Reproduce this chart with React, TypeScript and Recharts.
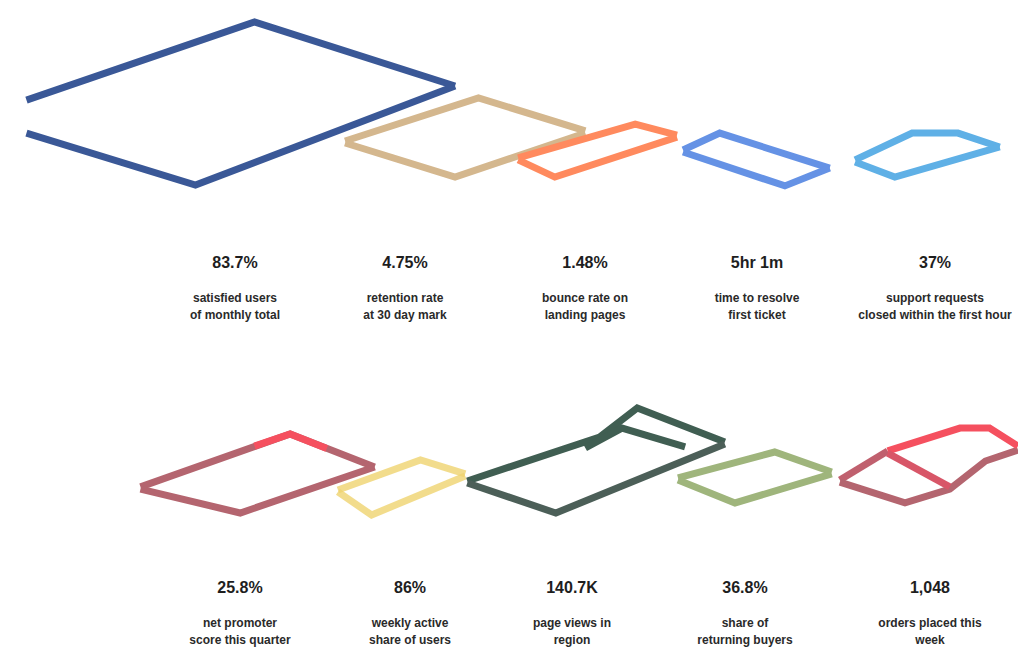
import { LineChart, Line, XAxis, YAxis } from 'recharts'

type Pt = { t: number; v: number }

// top row, x in 0..100 across the page, v in 0..100 within the row
const navyUpper: Pt[] = [{ t: 2.6, v: 54.5 }, { t: 25.0, v: 90.0 }, { t: 44.7, v: 60.9 }]
const navyLower: Pt[] = [{ t: 2.6, v: 39.5 }, { t: 19.2, v: 15.9 }, { t: 44.7, v: 60.9 }]
const tanUpper: Pt[] = [{ t: 33.9, v: 35.9 }, { t: 47.0, v: 55.5 }, { t: 57.5, v: 40.5 }]
const tanLower: Pt[] = [{ t: 33.9, v: 35.0 }, { t: 44.7, v: 19.5 }, { t: 57.5, v: 39.5 }]
const coralUpper: Pt[] = [{ t: 50.9, v: 28.2 }, { t: 62.4, v: 43.6 }, { t: 66.5, v: 38.6 }]
const coralLower: Pt[] = [{ t: 50.9, v: 27.3 }, { t: 54.5, v: 19.5 }, { t: 66.5, v: 37.7 }]
const cornUpper: Pt[] = [{ t: 67.1, v: 31.8 }, { t: 70.7, v: 39.5 }, { t: 81.5, v: 23.6 }]
const cornLower: Pt[] = [{ t: 67.1, v: 30.9 }, { t: 77.1, v: 15.5 }, { t: 81.5, v: 23.6 }]
const skyUpper: Pt[] = [{ t: 84.0, v: 27.3 }, { t: 89.6, v: 39.5 }, { t: 94.1, v: 39.5 }, { t: 98.2, v: 33.2 }]
const skyLower: Pt[] = [{ t: 84.0, v: 26.4 }, { t: 87.9, v: 19.5 }, { t: 98.2, v: 33.2 }]

// bottom row
const roseUpper: Pt[] = [{ t: 13.8, v: 40.6 }, { t: 28.5, v: 70.0 }, { t: 36.8, v: 51.7 }]
const roseLower: Pt[] = [{ t: 13.8, v: 39.4 }, { t: 23.6, v: 26.1 }, { t: 36.8, v: 51.7 }]
const rosePeak: Pt[] = [{ t: 25.0, v: 63.3 }, { t: 28.5, v: 70.0 }, { t: 32.1, v: 62.0 }]
const yellowUpper: Pt[] = [{ t: 33.2, v: 38.9 }, { t: 41.3, v: 55.6 }, { t: 45.7, v: 47.8 }]
const yellowLower: Pt[] = [{ t: 33.2, v: 37.8 }, { t: 36.5, v: 25.0 }, { t: 45.7, v: 46.7 }]
const pineUpper: Pt[] = [{ t: 45.9, v: 43.9 }, { t: 58.9, v: 68.3 }, { t: 62.6, v: 84.4 }, { t: 71.2, v: 65.6 }]
const pineInner: Pt[] = [{ t: 57.5, v: 62.2 }, { t: 61.1, v: 73.3 }, { t: 67.3, v: 62.8 }]
const pineLower: Pt[] = [{ t: 45.9, v: 42.8 }, { t: 54.6, v: 26.1 }, { t: 71.2, v: 64.4 }]
const oliveUpper: Pt[] = [{ t: 66.6, v: 45.6 }, { t: 76.1, v: 60.0 }, { t: 81.7, v: 48.9 }]
const oliveLower: Pt[] = [{ t: 66.6, v: 44.4 }, { t: 72.2, v: 31.7 }, { t: 81.7, v: 47.8 }]
const berryUpper: Pt[] = [{ t: 82.5, v: 44.4 }, { t: 87.2, v: 60.6 }]
const berryLower: Pt[] = [{ t: 82.5, v: 43.3 }, { t: 88.9, v: 31.7 }, { t: 93.3, v: 39.4 }, { t: 96.8, v: 55.0 }, { t: 100, v: 61.1 }]
const redUpper: Pt[] = [{ t: 87.2, v: 60.6 }, { t: 94.3, v: 73.3 }, { t: 97.2, v: 73.3 }, { t: 100, v: 63.3 }]
const redLower: Pt[] = [{ t: 87.2, v: 59.4 }, { t: 93.3, v: 40.6 }]

const topValues = ['83.7%', '4.75%', '1.48%', '5hr 1m', '37%']
const topNotes = [
  ['satisfied users', 'of monthly total'],
  ['retention rate', 'at 30 day mark'],
  ['bounce rate on', 'landing pages'],
  ['time to resolve', 'first ticket'],
  ['support requests', 'closed within the first hour'],
]
const bottomValues = ['25.8%', '86%', '140.7K', '36.8%', '1,048']
const bottomNotes = [
  ['net promoter', 'score this quarter'],
  ['weekly active', 'share of users'],
  ['page views in', 'region'],
  ['share of', 'returning buyers'],
  ['orders placed this', 'week'],
]

const topCenters = [235, 405, 585, 757, 935]
const bottomCenters = [240, 410, 572, 745, 930]

type Series = { data: Pt[]; color: string; opacity?: number }

const topSeries: Series[] = [
  { data: navyUpper, color: '#3a5897' },
  { data: navyLower, color: '#3a5897' },
  { data: tanUpper, color: '#d4b78e' },
  { data: tanLower, color: '#d4b78e' },
  { data: coralUpper, color: '#ff8a5e' },
  { data: coralLower, color: '#ff8a5e' },
  { data: cornUpper, color: '#6592e5' },
  { data: cornLower, color: '#6592e5' },
  { data: skyUpper, color: '#5fb0e6' },
  { data: skyLower, color: '#5fb0e6' },
]

const bottomSeries: Series[] = [
  { data: roseUpper, color: '#b4656f' },
  { data: roseLower, color: '#b4656f' },
  { data: rosePeak, color: '#f5505f' },
  { data: yellowUpper, color: '#efd36f', opacity: 0.8 },
  { data: yellowLower, color: '#efd36f', opacity: 0.8 },
  { data: pineUpper, color: '#405e52' },
  { data: pineInner, color: '#405e52' },
  { data: pineLower, color: '#4c5f58' },
  { data: oliveUpper, color: '#9fb57c' },
  { data: oliveLower, color: '#9fb57c' },
  { data: berryUpper, color: '#c0606e' },
  { data: berryLower, color: '#b4656f' },
  { data: redUpper, color: '#f5505f' },
  { data: redLower, color: '#d85668' },
]

function Row({ series, height }: { series: Series[]; height: number }) {
  return (
    <LineChart width={1018} height={height} margin={{ top: 0, right: 0, bottom: 0, left: 0 }}>
      <XAxis type='number' dataKey='t' domain={[0, 100]} hide allowDataOverflow />
      <YAxis type='number' domain={[0, 100]} hide allowDataOverflow />
      {series.map((s, i) => (
        <Line
          key={i}
          data={s.data}
          dataKey='v'
          type='linear'
          stroke={s.color}
          strokeOpacity={s.opacity ?? 1}
          strokeWidth={7}
          strokeLinejoin='miter'
          dot={false}
          activeDot={false}
          isAnimationActive={false}
        />
      ))}
    </LineChart>
  )
}

function Labels({ values, notes, centers, top }: { values: string[]; notes: string[][]; centers: number[]; top: number }) {
  return (
    <>
      {values.map((val, i) => (
        <div
          key={i}
          style={{
            position: 'absolute',
            left: centers[i] - 90,
            top,
            width: 180,
            textAlign: 'center',
            fontFamily: 'Liberation Sans, Arial, sans-serif',
            color: '#1e1e1e',
          }}
        >
          <div style={{ fontSize: 16, fontWeight: 700, lineHeight: '18px' }}>{val}</div>
          <div style={{ fontSize: 12, fontWeight: 700, lineHeight: '17px', marginTop: 18, color: '#2a2a2a' }}>
            {notes[i][0]}
            <br />
            {notes[i][1]}
          </div>
        </div>
      ))}
    </>
  )
}

export default function App() {
  return (
    <div style={{ position: 'relative', width: 1018, height: 667, background: '#fff', overflow: 'hidden' }}>
      <style>{'body{margin:0}'}</style>
      <div style={{ position: 'absolute', left: 0, top: 0 }}>
        <Row series={topSeries} height={220} />
      </div>
      <div style={{ position: 'absolute', left: 0, top: 380 }}>
        <Row series={bottomSeries} height={180} />
      </div>
      <Labels values={topValues} notes={topNotes} centers={topCenters} top={254} />
      <Labels values={bottomValues} notes={bottomNotes} centers={bottomCenters} top={579} />
    </div>
  )
}
